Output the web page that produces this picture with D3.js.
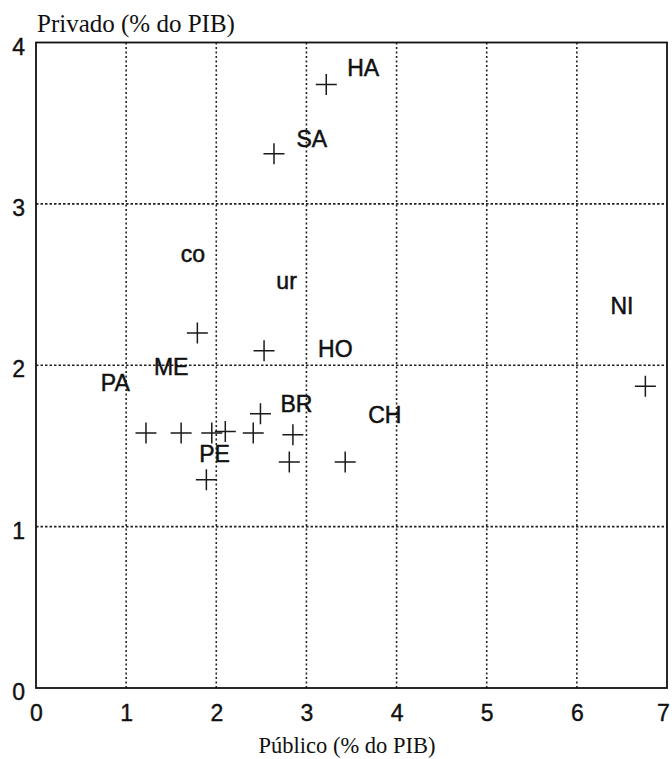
<!DOCTYPE html>
<html>
<head>
<meta charset="utf-8">
<script src="https://cdn.jsdelivr.net/npm/d3@7"></script>
<style>
  body { margin: 0; background: #fff; }
  svg { display: block; }
</style>
</head>
<body>
<div class="chart"></div>
<script>
// crosses: gasto publico (x) vs privado (y), % do PIB
var pubX = [1.22, 1.61, 1.95, 2.1, 2.41, 2.85, 2.81, 3.43, 1.89, 2.49, 1.79, 2.53, 2.64, 3.22, 6.76];
var privY = [1.58, 1.58, 1.58, 1.59, 1.58, 1.57, 1.4, 1.4, 1.29, 1.7, 2.2, 2.09, 3.31, 3.74, 1.87];

// country codes, placed in data units
var codes = ["HA", "SA", "co", "ur", "NI", "HO", "BR", "CH", "ME", "PA", "PE"];
var codeX = [3.63, 3.06, 1.74, 2.78, 6.5, 3.32, 2.89, 3.87, 1.5, 0.88, 1.98];
var codeY = [3.79, 3.35, 2.64, 2.47, 2.32, 2.05, 1.71, 1.64, 1.94, 1.84, 1.4];

var xTicks = [0, 1, 2, 3, 4, 5, 6, 7];
var yTicks = [0, 1, 2, 3, 4];

var width = 672, height = 759;
var margin = { top: 42.5, right: 5, bottom: 71, left: 36 };
var w = width - margin.left - margin.right;
var h = height - margin.top - margin.bottom;

var svg = d3.select(".chart")
    .append("svg")
    .attr("width", width)
    .attr("height", height);

var g = svg.append("g")
    .attr("transform", "translate(" + margin.left + "," + margin.top + ")");

var x = d3.scaleLinear().domain([0, 7]).range([0, w]);
var y = d3.scaleLinear().domain([0, 4]).range([h, 0]);

//dotted grid inside the box
g.selectAll(".vgrid")
    .data(xTicks.slice(1, -1))
    .enter()
    .append("line")
    .attr("x1", function (d) { return x(d); })
    .attr("x2", function (d) { return x(d); })
    .attr("y1", 0)
    .attr("y2", h)
    .style("stroke", "#222")
    .style("stroke-width", 1.6)
    .style("stroke-dasharray", "2,2.5");

g.selectAll(".hgrid")
    .data(yTicks.slice(1, -1))
    .enter()
    .append("line")
    .attr("x1", 0)
    .attr("x2", w)
    .attr("y1", function (d) { return y(d); })
    .attr("y2", function (d) { return y(d); })
    .style("stroke", "#222")
    .style("stroke-width", 1.6)
    .style("stroke-dasharray", "2.5,2");

g.append("rect")
    .attr("width", w)
    .attr("height", h)
    .style("fill", "none")
    .style("stroke", "#111")
    .style("stroke-width", 1.8);

var xAxis = d3.axisBottom(x).tickValues(xTicks).tickFormat(d3.format("d")).tickSize(0).tickPadding(17);
var yAxis = d3.axisLeft(y).tickValues(yTicks).tickFormat(d3.format("d")).tickSize(0).tickPadding(11);

var gx = g.append("g")
    .attr("transform", "translate(0," + h + ")")
    .call(xAxis);
var gy = g.append("g").call(yAxis);

[gx, gy].forEach(function (a) {
    a.select(".domain").remove();
    a.selectAll("text")
        .style("font-family", "'Liberation Sans', Arial, sans-serif")
        .style("font-size", "23px")
        .style("fill", "#111")
        .style("stroke", "#111")
        .style("stroke-width", 0.4);
});
gy.selectAll("text").attr("dy", "0.5em");
// last x label sits against the page edge
gx.selectAll("text").filter(function (d) { return d === 7; }).attr("dx", -4);

// crosses
var arm = 10.5;
g.selectAll(".pt")
    .data(pubX.map(function (d, i) { return [d, privY[i]]; }))
    .enter()
    .append("path")
    .attr("d", function (d) {
        var cx = x(d[0]), cy = y(d[1]);
        return "M" + (cx - arm) + "," + cy + "H" + (cx + arm) +
               "M" + cx + "," + (cy - arm) + "V" + (cy + arm);
    })
    .style("stroke", "#1a1a1a")
    .style("stroke-width", 1.5)
    .style("fill", "none");

g.selectAll(".code")
    .data(codes)
    .enter()
    .append("text")
    .attr("x", function (d, i) { return x(codeX[i]); })
    .attr("y", function (d, i) { return y(codeY[i]); })
    .attr("text-anchor", "middle")
    .style("font-family", "'Liberation Sans', Arial, sans-serif")
    .style("font-size", "23px")
    .style("fill", "#111")
    .style("stroke", "#111")
    .style("stroke-width", 0.5)
    .text(function (d) { return d; });

// axis titles
svg.append("text")
    .attr("x", 37)
    .attr("y", 31.5)
    .style("font-family", "'Liberation Serif', 'Times New Roman', serif")
    .style("font-size", "25px")
    .style("fill", "#111")
    .text("Privado (% do PIB)");

svg.append("text")
    .attr("x", margin.left + x(3.45))
    .attr("y", 753)
    .attr("text-anchor", "middle")
    .style("font-family", "'Liberation Serif', 'Times New Roman', serif")
    .style("font-size", "22.5px")
    .style("fill", "#111")
    .text("Público (% do PIB)");
</script>
</body>
</html>
